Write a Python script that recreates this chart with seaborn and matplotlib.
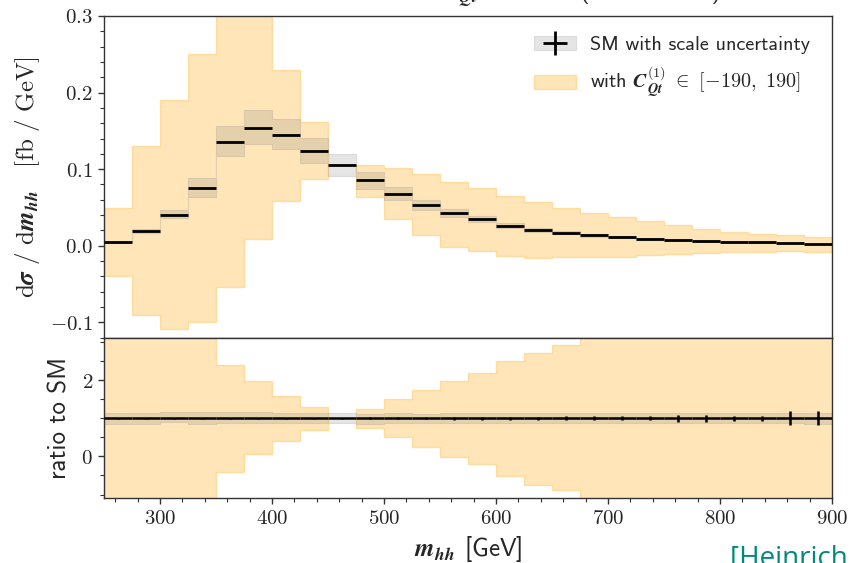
import numpy as np
import matplotlib
matplotlib.use("Agg")
import matplotlib.pyplot as plt
import seaborn as sns
from matplotlib.patches import Patch
from matplotlib.lines import Line2D
from matplotlib.ticker import MultipleLocator, FuncFormatter

# ---------------- data ----------------
bin_edges = [250, 275, 300, 325, 350, 375, 400, 425, 450, 475, 500, 525, 550,
             575, 600, 625, 650, 675, 700, 725, 750, 775, 800, 825, 850, 875, 900]

# SM central value  [fb/GeV]
sm = [0.0043, 0.0196, 0.0400, 0.0750, 0.1350, 0.1535, 0.1450, 0.1240, 0.1050,
      0.0857, 0.0680, 0.0535, 0.0422, 0.0348, 0.0260, 0.0209, 0.0170, 0.0135,
      0.0113, 0.0091, 0.0074, 0.0061, 0.0052, 0.0043, 0.0035, 0.0022]
# scale uncertainty envelope
sm_up = [0.0049, 0.0225, 0.0465, 0.0880, 0.1570, 0.1770, 0.1660, 0.1410, 0.1196,
         0.0957, 0.0770, 0.0600, 0.0480, 0.0395, 0.0295, 0.0237, 0.0193, 0.0153,
         0.0128, 0.0103, 0.0084, 0.0069, 0.0059, 0.0049, 0.0040, 0.0025]
sm_dn = [0.0037, 0.0165, 0.0357, 0.0640, 0.1170, 0.1335, 0.1260, 0.1080, 0.0913,
         0.0740, 0.0596, 0.0470, 0.0370, 0.0305, 0.0228, 0.0183, 0.0149, 0.0118,
         0.0099, 0.0080, 0.0065, 0.0053, 0.0046, 0.0038, 0.0031, 0.0019]
# band from varying C_Qt^(1) in [-190, 190]
cqt_up = [0.0496, 0.1300, 0.1900, 0.2510, 0.3230, 0.3020, 0.2300, 0.1610, np.nan,
          0.1060, 0.1017, 0.0935, 0.0835, 0.0760, 0.0650, 0.0570, 0.0495, 0.0430,
          0.0370, 0.0317, 0.0265, 0.0222, 0.0183, 0.0152, 0.0135, 0.0117]
cqt_dn = [-0.0400, -0.0900, -0.1090, -0.1000, -0.0535, 0.0090, 0.0590, 0.0870, np.nan,
          0.0640, 0.0348, 0.0135, -0.0010, -0.0068, -0.0132, -0.0155, -0.0152, -0.0150,
          -0.0143, -0.0126, -0.0113, -0.0100, -0.0087, -0.0078, -0.0070, -0.0083]
# statistical error of the ratio
ratio_stat = [0.02, 0.02, 0.02, 0.02, 0.02, 0.02, 0.02, 0.02, 0.02,
              0.03, 0.03, 0.03, 0.04, 0.04, 0.04, 0.04, 0.05, 0.05,
              0.05, 0.05, 0.09, 0.09, 0.07, 0.07, 0.18, 0.18]

# ---------------- style ----------------
sns.set_theme(style="ticks")
plt.rcParams["mathtext.fontset"] = "cm"
plt.rcParams["font.family"] = ["cmss10", "DejaVu Sans"]
plt.rcParams["axes.edgecolor"] = "#333333"
plt.rcParams["axes.linewidth"] = 1.0

edges = np.asarray(bin_edges, float)
centers = 0.5 * (edges[:-1] + edges[1:])
half = 0.5 * np.diff(edges)
xs = np.repeat(edges, 2)[1:-1]


def steps(v):
    return np.repeat(np.asarray(v, float), 2)


smv = np.asarray(sm)
orange = "#ffa500"

fig = plt.figure(figsize=(8.52, 5.63), dpi=100)
ax1 = fig.add_axes([0.12207, 0.4002, 0.85446, 0.5714])
ax2 = fig.add_axes([0.12207, 0.1149, 0.85446, 0.2842], sharex=ax1)

# ---- top panel
ax1.fill_between(xs, steps(cqt_dn), steps(cqt_up), facecolor=orange,
                 edgecolor=orange, alpha=0.28, lw=1.0, zorder=1)
ax1.fill_between(xs, steps(sm_dn), steps(sm_up), facecolor="gray",
                 edgecolor="gray", alpha=0.2, lw=0.8, zorder=2)
ax1.errorbar(centers, sm, xerr=half, fmt="none", ecolor="black",
             elinewidth=2.0, zorder=3)

# ---- ratio panel
ax2.fill_between(xs, steps(np.asarray(cqt_dn) / smv), steps(np.asarray(cqt_up) / smv),
                 facecolor=orange, edgecolor=orange, alpha=0.28, lw=1.0, zorder=1)
ax2.fill_between(xs, steps(np.asarray(sm_dn) / smv), steps(np.asarray(sm_up) / smv),
                 facecolor="gray", edgecolor="gray", alpha=0.2, lw=0.8, zorder=2)
ax2.errorbar(centers, smv / smv, xerr=half, yerr=ratio_stat, fmt="none",
             ecolor="black", elinewidth=1.8, zorder=3)

# ---- axes
ax1.set_xlim(250, 900)
ax1.set_ylim(-0.12, 0.3)
ax2.set_ylim(-1.1, 3.1)

ax1.yaxis.set_major_locator(MultipleLocator(0.1))
ax1.yaxis.set_minor_locator(MultipleLocator(0.02))
ax2.yaxis.set_major_locator(MultipleLocator(2))
ax2.yaxis.set_minor_locator(MultipleLocator(0.5))
ax2.xaxis.set_major_locator(MultipleLocator(100))
ax2.xaxis.set_minor_locator(MultipleLocator(20))

ax1.yaxis.set_major_formatter(FuncFormatter(lambda v, p: "$%.1f$" % (round(v, 3) + 0.0)))
ax2.yaxis.set_major_formatter(FuncFormatter(lambda v, p: "$%d$" % int(round(v))))
ax2.xaxis.set_major_formatter(FuncFormatter(lambda v, p: "$%d$" % int(round(v))))

for ax in (ax1, ax2):
    ax.tick_params(which="major", direction="out", length=4.5, width=1.0,
                   labelsize=15, color="#333333")
    ax.tick_params(which="minor", direction="out", length=3, width=0.8,
                   color="#333333")
    for s in ax.spines.values():
        s.set_visible(True)
ax1.tick_params(axis="x", which="both", length=0, labelbottom=False)

ax1.set_ylabel(r"$\mathrm{d}\mathbfit{\sigma}\ /\ \mathrm{d}\mathbfit{m}_{\mathbfit{hh}}\quad"
               r"[\mathrm{fb}\ /\ \mathrm{GeV}]$", fontsize=18)
ax1.yaxis.set_label_coords(-0.085, 0.5)
ax2.set_ylabel("ratio to SM", fontsize=18)
ax2.yaxis.set_label_coords(-0.045, 0.5)
ax2.set_xlabel(r"$\mathbfit{m}_{\mathbfit{hh}}$ [GeV]", fontsize=18)
ax2.xaxis.set_label_coords(0.5, -0.22)

# ---- legend
h_sm = (Patch(facecolor="gray", alpha=0.2, edgecolor="gray", lw=0.8),
        Line2D([], [], marker="+", markersize=17, markeredgewidth=2.0,
               color="black", linestyle="none"))
h_c = Patch(facecolor=orange, alpha=0.28, edgecolor=orange, lw=1.0)
leg = ax1.legend([h_sm, h_c],
                 ["SM with scale uncertainty",
                  r"with $\mathbfit{C}_{\mathbfit{Qt}}^{(\mathbf{1})}\ \in\ [-190,\ 190]$"],
                 loc="upper right", frameon=False, fontsize=14.5,
                 handlelength=2.1, handletextpad=0.7, labelspacing=0.55,
                 borderaxespad=0.5, bbox_to_anchor=(0.995, 0.995))

# ---- text cut by the figure edges (title above, citation below)
fig.text(481 / 852, 1.0 + 3 / 563, r"$\mathbfit{C}_{\mathbfit{Qt}}^{(\mathbf{1})}$",
         ha="right", va="baseline", fontsize=18)
fig.text(651 / 852, 1.0 + 2 / 563, "(NLO HEFT)", ha="center", va="baseline", fontsize=18)
fig.text(730 / 852, -3 / 563, "[Heinrich et al.]", color="#00897b",
         fontsize=20, family="Open Sans", ha="left", va="baseline")

fig.savefig("out.png", dpi=100)
